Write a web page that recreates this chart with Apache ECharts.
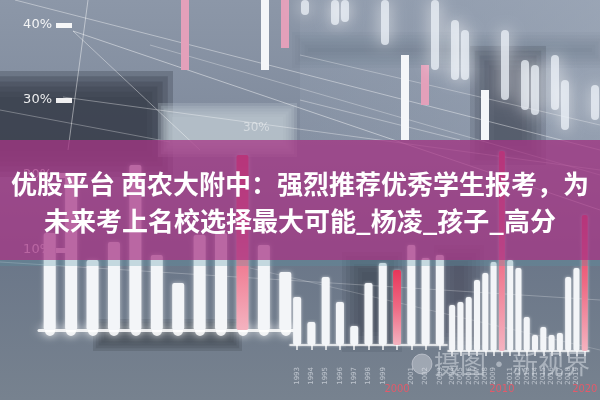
<!DOCTYPE html>
<html><head><meta charset="utf-8">
<script src="https://cdn.jsdelivr.net/npm/echarts@6/dist/echarts.min.js"></script>
<style>html,body{margin:0;padding:0;background:#7d889a}#c{width:600px;height:400px}</style>
</head><body><div id="c"></div>
<script>
// ---------- data ----------
const titleLine1 = '优股平台 西农大附中：强烈推荐优秀学生报考，为';
const titleLine2 = '未来考上名校选择最大可能_杨凌_孩子_高分';
const watermark = '摄图·新视界';
const pctTicks = [10, 20, 30, 40];
const yearsA = ['1981','1982','1983','1984','1985','1986','1987','1988','1989','1990','1991','1992'];
const valuesA = [97, 155, 70, 88, 165, 75, 47, 95, 97, 175, 85, 58];
const yearsB = ['1993','1994','1995','1996','1997','1998','1999','2000','2001','2002','2003'];
const valuesB = [48, 23, 68, 43, 19, 62, 82, 75, 100, 87, 90];
const yearsC = ['2004','2005','2006','2007','2008','2009','2010','2011','2012','2013','2014','2015','2016','2017','2018','2019','2020'];
const valuesC = [46, 49, 54, 71, 78, 89, 200, 91, 83, 34, 16, 24, 16, 18, 74, 83, 136];
const accentYears = ['1990', '2000', '2010', '2020'];
// hanging (upper, out-of-focus) bars: slot index, offset from top, length
const topSlots = Array.from({length: 42}, (_, i) => String(i));
const topGap   = [0,0,0,0,0,0,0,0,0,0,0,0,0,0,0,0,0,0,0,0,0,0,55,0,65,0,0,20,30,0,90,0,30,0,60,65,0,55,80,0,0,85];
const topSharp = [70,0,0,0,0,0,0,0,70,0,48,0,0,0,0,0,0,0,0,0,0,0,85,0,40,0,0,0,0,0,50,0,0,0,0,0,0,0,0,0,0,0];
const topGlow  = [0,0,0,0,0,0,0,0,0,0,0,0,15,0,0,25,22,0,0,0,45,0,0,0,0,70,0,60,50,0,0,0,70,0,50,50,0,55,50,0,0,35];
const topPinkSlots = ['0', '10', '24'];

// ---------- chart ----------
const chart = echarts.init(document.getElementById('c'), null, {renderer: 'canvas'});
const G = echarts.graphic;
const redGrad = () => new G.LinearGradient(0, 0, 0, 1, [
  {offset: 0, color: '#e8365a'}, {offset: 0.5, color: '#ee6a84'}, {offset: 1, color: '#f4b3c0'}]);
const barColor = p => accentYears.includes(p.name) ? redGrad() : '#f3f5f8';

function bottomAxis(grid, cats, offset, showLabels) {
  return {
    type: 'category', gridIndex: grid, data: cats, position: 'bottom', offset: offset,
    boundaryGap: true,
    axisLine: {show: true, lineStyle: {color: 'rgba(255,255,255,0.85)', width: showLabels ? 1.5 : 3,
      shadowBlur: showLabels ? 2 : 10, shadowColor: 'rgba(255,255,255,0.9)'}},
    axisTick: showLabels
      ? {show: true, alignWithLabel: true, length: 5, lineStyle: {color: 'rgba(255,255,255,0.9)', width: 1.5}}
      : {show: true, alignWithLabel: true, length: 1, lineStyle: {color: 'rgba(255,255,255,0.85)', width: 10, cap: 'round', shadowBlur: 10, shadowColor: '#fff'}},
    axisLabel: {show: showLabels, interval: 0, rotate: 90, fontSize: 7, margin: 5,
      color: 'rgba(235,238,245,0.6)', fontFamily: 'DejaVu Sans',
      formatter: v => accentYears.includes(v) ? '' : v},
    splitLine: {show: false}
  };
}
function decadeAxis(grid, cats, offset) {
  return {
    type: 'category', gridIndex: grid, data: cats, position: 'bottom', offset: offset,
    axisLine: {show: false}, axisTick: {show: false}, splitLine: {show: false},
    axisLabel: {show: true, interval: 0, fontSize: 11, margin: 22, color: '#e25a6a',
      fontFamily: 'DejaVu Sans Condensed', formatter: v => accentYears.includes(v) ? v : ''}
  };
}
const hiddenY = (grid, max, inverse) => ({type: 'value', gridIndex: grid, min: 0, max: max, inverse: !!inverse, show: false});

// soft-edged patch made of nested translucent rectangles
function soft(x, y, w, h, rgb, alpha, fade, z) {
  const n = 6, out = [];
  for (let i = 0; i < n; i++) {
    const d = fade * (i / (n - 1)) - fade / 2;
    out.push({type: 'rect', z: z, shape: {x: x + d, y: y + d, width: Math.max(1, w - 2 * d), height: Math.max(1, h - 2 * d)},
      style: {fill: 'rgba(' + rgb + ',' + (1 - Math.pow(1 - alpha, 1 / n)).toFixed(3) + ')'}});
  }
  return out;
}

const bg = [].concat(
  [{type: 'rect', z: -100, shape: {x: 0, y: 0, width: 600, height: 400},
   style: {fill: new G.LinearGradient(0, 0, 0, 1, [
     {offset: 0, color: '#8c97a8'}, {offset: 0.35, color: '#7f8a9c'},
     {offset: 0.65, color: '#6b7789'}, {offset: 1, color: '#77828f'}])}},
  {type: 'rect', z: -99, shape: {x: 300, y: 0, width: 300, height: 140},
   style: {fill: new G.LinearGradient(0, 0, 1, 0, [
     {offset: 0, color: 'rgba(150,162,180,0.3)'}, {offset: 1, color: 'rgba(165,176,192,0.55)'}])}}],
  soft(-30, 84, 190, 80, '58,64,77', 0.9, 26, -97),
  soft(165, 110, 125, 40, '190,198,208', 0.85, 14, -97),
  soft(482, 58, 52, 95, '77,85,101', 0.85, 24, -97),
  soft(300, 40, 300, 20, '90,100,118', 0.3, 16, -98),
  soft(100, 326, 135, 18, '60,66,78', 0.8, 14, -97),
  soft(352, 262, 40, 80, '60,66,80', 0.6, 20, -97),
  soft(444, 255, 30, 80, '60,66,80', 0.5, 20, -97),
  [{type: 'text', z: -96, x: 243, y: 128, style: {text: '30%', font: '12px "DejaVu Sans"', fill: 'rgba(255,255,255,0.45)', verticalAlign: 'middle'}}]
);
const lineStyle = (o) => ({stroke: 'rgba(255,255,255,' + o + ')', lineWidth: 1});
const deco = [
  [15, 0, 600, 150, 0.4], [73, 31, 600, 210, 0.45], [73, 31, 200, 150, 0.4],
  [63, 97, 600, 170, 0.35], [0, 110, 170, 142, 0.3], [88, 0, 68, 150, 0.45],
  [300, 55, 600, 125, 0.3], [150, 45, 600, 175, 0.3], [300, 100, 460, 140, 0.35],
  [0, 262, 600, 300, 0.25], [250, 268, 600, 350, 0.2]
].map(d => ({type: 'line', z: 1, shape: {x1: d[0], y1: d[1], x2: d[2], y2: d[3]}, style: lineStyle(d[4])}));

const band = [
  {type: 'rect', z: 100, shape: {x: 0, y: 140, width: 600, height: 120},
   style: {fill: 'rgba(166,52,134,0.74)'}},
  {type: 'rect', z: 100, shape: {x: 0, y: 260, width: 600, height: 6},
   style: {fill: 'rgba(90,150,165,0.3)'}},
  {type: 'text', z: 101, x: 300, y: 202.5,
   style: {text: titleLine1 + '\n' + titleLine2, fill: '#ffffff', align: 'center', verticalAlign: 'middle',
     font: 'bold 26px "Noto Sans CJK SC"', lineHeight: 37,
     shadowBlur: 3, shadowColor: 'rgba(60,0,40,0.45)'}}
];
const wm = [
  {type: 'circle', z: 102, shape: {cx: 422, cy: 364, r: 10},
   style: {fill: 'rgba(225,228,235,0.4)', stroke: 'rgba(225,228,235,0.5)', lineWidth: 1}},
  {type: 'text', z: 102, x: 434, y: 364,
   style: {text: watermark, font: '26px "Noto Sans CJK SC"', fill: 'rgba(215,220,228,0.55)', verticalAlign: 'middle'}}
];

const option = {
  animation: false,
  backgroundColor: '#7d889a',
  grid: [
    {left: 56, top: 25, width: 10, height: 225},          // percent scale
    {left: 39, width: 257, top: 140, bottom: 70},          // bars 1981-1992
    {left: 290, width: 157, top: 140, bottom: 55},         // bars 1993-2003
    {left: 448, width: 152, top: 140, bottom: 49},         // bars 2004-2020
    {left: 180, width: 420, top: 0, height: 140}           // hanging bars
  ],
  xAxis: [
    {type: 'value', gridIndex: 0, show: false},
    bottomAxis(1, yearsA, 20, false),
    bottomAxis(2, yearsB, 17, true),
    bottomAxis(3, yearsC, 11, true),
    {type: 'category', gridIndex: 4, data: topSlots, show: false},
    decadeAxis(2, yearsB, 17),
    decadeAxis(3, yearsC, 11)
  ],
  yAxis: [
    {type: 'value', gridIndex: 0, min: pctTicks[0], max: pctTicks[pctTicks.length - 1], interval: 10,
     axisLine: {show: false}, splitLine: {show: false},
     axisTick: {show: true, inside: true, length: 16, lineStyle: {color: 'rgba(255,255,255,0.92)', width: 5}},
     axisLabel: {formatter: v => v + '%', color: 'rgba(255,255,255,0.9)', fontSize: 13, margin: 4, fontFamily: 'DejaVu Sans'}},
    hiddenY(1, 190), hiddenY(2, 205), hiddenY(3, 211), hiddenY(4, 140, true)
  ],
  series: [
    {type: 'bar', xAxisIndex: 1, yAxisIndex: 1, data: valuesA, barWidth: 12,
     itemStyle: {color: barColor, borderRadius: 2, shadowBlur: 4, shadowColor: 'rgba(255,255,255,0.6)'}},
    {type: 'bar', xAxisIndex: 2, yAxisIndex: 2, data: valuesB, barWidth: 8,
     itemStyle: {color: barColor, borderRadius: 2, shadowBlur: 3, shadowColor: 'rgba(255,255,255,0.6)'}},
    {type: 'bar', xAxisIndex: 3, yAxisIndex: 3, data: valuesC, barWidth: 6,
     itemStyle: {color: barColor, borderRadius: 2, shadowBlur: 3, shadowColor: 'rgba(255,255,255,0.6)'}},
    {type: 'bar', xAxisIndex: 4, yAxisIndex: 4, data: topGap, stack: 'top', barWidth: 8,
     itemStyle: {color: 'rgba(0,0,0,0)'}},
    {type: 'bar', xAxisIndex: 4, yAxisIndex: 4, data: topSharp, stack: 'top', barWidth: 7,
     itemStyle: {color: p => topPinkSlots.includes(p.name) ? '#e3a0ba' : '#f4f6f9'}},
    {type: 'bar', xAxisIndex: 4, yAxisIndex: 4, data: topGlow, stack: 'top', barWidth: 11,
     itemStyle: {color: 'rgba(236,241,248,0.75)', borderRadius: 6, shadowBlur: 16, shadowColor: 'rgba(255,255,255,0.95)'}}
  ],
  graphic: [].concat(bg, deco, band, wm)
};
chart.setOption(option);
</script></body></html>
